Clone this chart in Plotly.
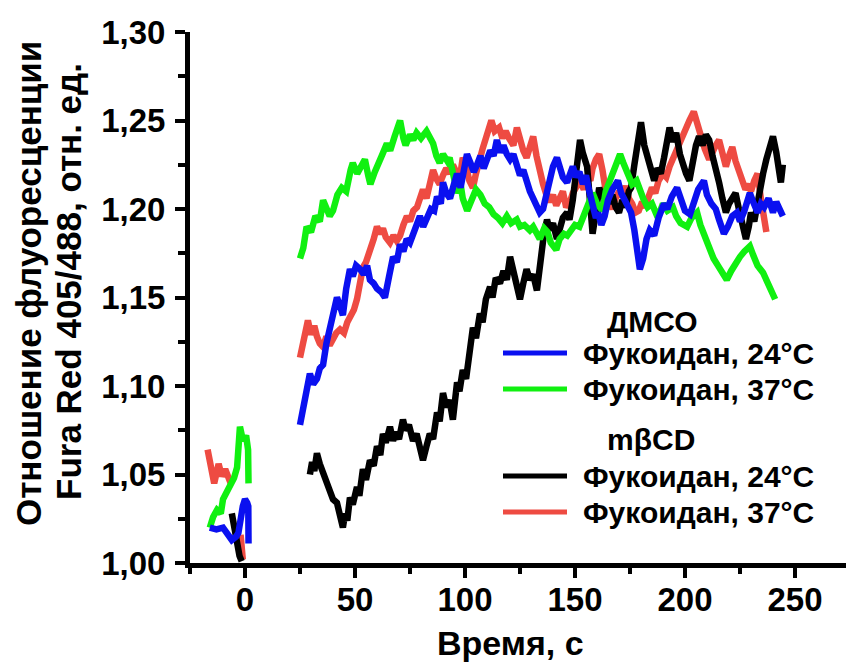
import plotly.graph_objects as go

# ---------------- data ----------------
# DMSO, Fucoidan 24 C (blue)
blue_pre_t = [-16, -13, -10, -8, -6, -4, -3, -1, 0, 1, 1.5, 1.6]
blue_pre_v = [1.020, 1.019, 1.020, 1.016, 1.013, 1.015, 1.017, 1.032, 1.036, 1.034, 1.032, 1.011]
blue_t = [25, 26.5, 28, 29.5, 31, 32.7, 34, 35.5, 37, 38.6, 40, 41.8, 43, 44.5, 46, 47.7, 49, 50.5, 52.3, 54,
          55.5, 56.8, 58.5, 60, 62, 63.6, 65.5, 67.3, 69, 70.5, 72, 73.5, 75, 77, 79.5, 81, 82.7, 84.5, 86, 87.3,
          89, 90, 91.5, 93.2, 95, 96.4, 98, 99.5, 100.9, 102.5, 104, 105.5, 107, 108.5, 110, 111.5, 113, 114.5,
          116, 117.5, 119, 120.5, 122, 123.6, 125, 126.5, 128, 129.5, 131, 132.7, 134, 135.5, 137, 138.5, 140,
          141.8, 143, 144.5, 146.4, 148, 149, 150.5, 152, 153.6, 155, 156.5, 158, 159.5, 160.5, 162, 163.5, 165,
          167, 169.5, 171, 173, 175.5, 177, 178.5, 179.5, 181, 182.5, 184, 186, 188, 190.5, 192, 194, 196.4, 198,
          200, 202.3, 204, 206, 208.6, 210, 212, 214, 215.5, 217.7, 219.5, 221.5, 223.6, 225, 227, 229.5, 231,
          233, 234.5, 236, 238, 240, 241.5, 243, 244.5]
blue_v = [1.078, 1.088, 1.097, 1.107, 1.101, 1.104, 1.110, 1.112, 1.124, 1.133, 1.141, 1.150, 1.146, 1.140, 1.155,
          1.166, 1.162, 1.168, 1.166, 1.163, 1.168, 1.160, 1.158, 1.155, 1.153, 1.150, 1.162, 1.173, 1.170, 1.180,
          1.176, 1.183, 1.181, 1.188, 1.196, 1.190, 1.194, 1.200, 1.199, 1.207, 1.203, 1.215, 1.209, 1.206, 1.214,
          1.220, 1.212, 1.223, 1.231, 1.226, 1.221, 1.225, 1.230, 1.223, 1.229, 1.233, 1.230, 1.239, 1.232, 1.236,
          1.231, 1.228, 1.231, 1.223, 1.219, 1.222, 1.214, 1.210, 1.206, 1.202, 1.198, 1.200, 1.208, 1.216, 1.224,
          1.229, 1.224, 1.218, 1.215, 1.221, 1.224, 1.218, 1.221, 1.214, 1.219, 1.210, 1.200, 1.195, 1.198, 1.191,
          1.196, 1.205, 1.211, 1.216, 1.209, 1.204, 1.198, 1.188, 1.175, 1.166, 1.172, 1.183, 1.188, 1.185, 1.195,
          1.203, 1.200, 1.207, 1.212, 1.205, 1.199, 1.197, 1.204, 1.211, 1.216, 1.208, 1.203, 1.200, 1.194, 1.186,
          1.190, 1.196, 1.198, 1.193, 1.199, 1.209, 1.204, 1.198, 1.203, 1.201, 1.206, 1.198, 1.204, 1.200, 1.196]

# DMSO, Fucoidan 37 C (green)
green_pre_t = [-16, -14.5, -12.7, -11, -10, -8.5, -6.8, -5, -3.6, -2.3, -0.9, 0.5, 1.4, 1.6]
green_pre_v = [1.020, 1.026, 1.030, 1.028, 1.036, 1.040, 1.043, 1.048, 1.054, 1.077, 1.069, 1.072, 1.064, 1.045]
green_t = [25, 26.5, 28, 30, 32, 34, 35.5, 37, 38.5, 40, 42, 44, 46, 48, 49, 51, 53, 54.5, 56, 57, 59, 61, 62.5,
           64.5, 66, 68, 70.5, 72, 73, 75, 76.5, 78, 80, 82.5, 84, 85.5, 87, 88.5, 90, 92, 93, 95, 96.5, 98, 99,
           101, 103, 105, 107, 109, 111, 113, 115, 117, 119, 121, 123.5, 125, 127, 129.5, 131, 133, 134, 136,
           137.5, 139, 141.5, 143, 145, 146.5, 148, 150, 152, 154, 156, 158, 160, 162.5, 164, 166, 168, 170.5,
           172, 174, 176, 178, 179.5, 181, 183, 185, 187, 188.5, 190, 192, 194.5, 196, 198, 201, 203, 205.5, 207,
           209, 211.5, 213, 215, 217, 219, 221, 223, 225, 227, 229.5, 231, 233, 235.5, 237, 239, 241]
green_v = [1.172, 1.178, 1.190, 1.187, 1.196, 1.193, 1.205, 1.201, 1.196, 1.199, 1.208, 1.212, 1.210, 1.222,
           1.226, 1.220, 1.224, 1.228, 1.219, 1.214, 1.221, 1.226, 1.231, 1.237, 1.233, 1.241, 1.250, 1.240,
           1.236, 1.242, 1.239, 1.243, 1.240, 1.244, 1.241, 1.237, 1.230, 1.226, 1.231, 1.227, 1.229, 1.218,
           1.209, 1.214, 1.206, 1.199, 1.205, 1.211, 1.208, 1.203, 1.201, 1.197, 1.195, 1.192, 1.196, 1.192,
           1.194, 1.190, 1.191, 1.188, 1.190, 1.185, 1.183, 1.189, 1.187, 1.181, 1.177, 1.183, 1.186, 1.185,
           1.188, 1.191, 1.190, 1.196, 1.204, 1.209, 1.203, 1.199, 1.210, 1.217, 1.224, 1.231, 1.226, 1.220,
           1.214, 1.216, 1.210, 1.206, 1.201, 1.203, 1.197, 1.198, 1.203, 1.199, 1.201, 1.196, 1.192, 1.190,
           1.195, 1.198, 1.191, 1.184, 1.176, 1.172, 1.168, 1.163, 1.160, 1.165, 1.170, 1.173, 1.176, 1.179,
           1.174, 1.168, 1.164, 1.160, 1.155, 1.149]

# m-beta-CD, Fucoidan 24 C (black)
black_pre_t = [-6, -5, -3.5, -2.5, -1.5]
black_pre_v = [1.028, 1.020, 1.010, 1.004, 1.001]
black_t = [29.5, 30.5, 31.5, 32.7, 34, 35.5, 37, 38.6, 40, 41.8, 43, 44.5, 45.5, 46.5, 47.7, 49, 50.9, 52, 53.6,
           55, 56.8, 58.5, 60, 61.5, 62.7, 64, 65.9, 67.3, 68.5, 70, 71.8, 73, 74.5, 76.4, 78, 79.5, 80.9, 82.5,
           84, 85.5, 87.3, 88.5, 90, 91.5, 93, 94.5, 96.4, 97.5, 99, 100.5, 102, 103.6, 105, 106.8, 108, 109.5,
           111.4, 112.5, 114, 115.9, 117.5, 119, 120.5, 122, 123.5, 125, 126.5, 128, 129.5, 131, 132.7, 134, 135,
           136, 137.3, 138.5, 140, 141.8, 143, 144.5, 146.4, 147.5, 149, 150.5, 152.3, 153.5, 155.5, 156.8, 158,
           159.5, 161, 162.5, 164, 165.5, 167, 168.5, 170, 171.5, 173, 174.5, 175.5, 177, 178.5, 180, 181.5, 183,
           184.5, 186, 187.5, 189, 190.5, 192, 193, 194.5, 196, 197.7, 199, 200.5, 202, 203.5, 205, 206.4, 208,
           209.5, 211, 212.5, 214, 215.5, 217, 218.6, 220, 221.5, 223, 224.5, 226, 227.7, 229, 230, 231.5, 233,
           234.5, 235.5, 237, 238.5, 240, 241.5, 242.5, 243.6, 244.5]
black_v = [1.050, 1.057, 1.052, 1.062, 1.056, 1.051, 1.045, 1.040, 1.036, 1.034, 1.027, 1.020, 1.028, 1.024,
           1.037, 1.033, 1.043, 1.038, 1.053, 1.047, 1.058, 1.055, 1.066, 1.061, 1.073, 1.068, 1.077, 1.069,
           1.074, 1.070, 1.081, 1.075, 1.078, 1.069, 1.073, 1.064, 1.058, 1.066, 1.073, 1.070, 1.085, 1.080,
           1.096, 1.088, 1.092, 1.081, 1.102, 1.097, 1.109, 1.104, 1.116, 1.133, 1.127, 1.141, 1.136, 1.149,
           1.156, 1.150, 1.161, 1.158, 1.165, 1.160, 1.173, 1.165, 1.157, 1.149, 1.158, 1.166, 1.160, 1.163,
           1.154, 1.164, 1.177, 1.187, 1.194, 1.188, 1.192, 1.183, 1.190, 1.195, 1.198, 1.194, 1.205, 1.220,
           1.239, 1.232, 1.224, 1.205, 1.186, 1.198, 1.212, 1.206, 1.211, 1.203, 1.208, 1.201, 1.198, 1.205,
           1.201, 1.210, 1.212, 1.225, 1.240, 1.249, 1.236, 1.228, 1.221, 1.216, 1.223, 1.220, 1.229, 1.238,
           1.246, 1.238, 1.243, 1.231, 1.225, 1.220, 1.216, 1.228, 1.236, 1.241, 1.236, 1.242, 1.239, 1.230,
           1.224, 1.215, 1.206, 1.198, 1.203, 1.206, 1.209, 1.200, 1.192, 1.183, 1.190, 1.198, 1.193, 1.205,
           1.214, 1.220, 1.228, 1.236, 1.241, 1.232, 1.222, 1.215, 1.225]

# m-beta-CD, Fucoidan 37 C (red)
red_pre_t = [-17, -15.5, -14, -12, -10.5, -9, -7, -6.5]
red_pre_v = [1.064, 1.052, 1.045, 1.056, 1.049, 1.053, 1.047, 1.045]
red_pre2_t = [-2, -1.5, -1]
red_pre2_v = [1.016, 1.008, 1.002]
red_t = [25, 26.4, 27.5, 28.6, 30, 31.5, 32.7, 34, 35.5, 37, 38.5, 40, 41.5, 43.2, 45, 46.5, 47.7, 49.5, 50.9,
         52.3, 53.6, 55, 56.8, 58.5, 60, 61.5, 62.7, 64, 65.9, 67.5, 69, 70.5, 72, 73.6, 75, 76.5, 78.2, 79.5,
         80.9, 82.5, 84, 85.5, 87, 88.5, 90, 91.5, 93, 94.5, 96, 97.7, 99, 100.5, 102, 103.6, 105, 106.5, 108,
         110, 112, 113.5, 115.5, 117, 118.5, 120, 122, 123.6, 125, 126.5, 128, 129.5, 131, 132.5, 134, 135.5,
         137, 138.6, 140, 141.5, 143, 144.5, 146, 147.7, 149, 150.5, 152.3, 154, 155.5, 157, 158, 159.5, 161,
         162.5, 164, 165.5, 167, 168.5, 170, 171.5, 173, 174.5, 176, 177.5, 179, 180.5, 182, 183.5, 185, 186.5,
         188, 190, 191.5, 193, 195, 197, 198.5, 200, 202, 204, 205.5, 207.7, 209, 211, 212.5, 214, 215.5, 217,
         218.6, 220, 221.5, 223, 224.5, 226, 227.5, 229, 230, 231.5, 233, 234.5, 236, 237]
red_v = [1.116, 1.126, 1.133, 1.137, 1.129, 1.134, 1.128, 1.124, 1.122, 1.128, 1.123, 1.127, 1.130, 1.132,
         1.130, 1.136, 1.139, 1.143, 1.149, 1.160, 1.167, 1.170, 1.176, 1.183, 1.190, 1.186, 1.189, 1.184, 1.181,
         1.185, 1.182, 1.185, 1.191, 1.196, 1.193, 1.199, 1.201, 1.207, 1.211, 1.206, 1.216, 1.222, 1.217, 1.214,
         1.219, 1.223, 1.220, 1.225, 1.221, 1.218, 1.229, 1.224, 1.216, 1.212, 1.220, 1.228, 1.234, 1.242, 1.250,
         1.244, 1.246, 1.240, 1.244, 1.240, 1.236, 1.246, 1.239, 1.233, 1.229, 1.237, 1.241, 1.230, 1.220, 1.214,
         1.208, 1.204, 1.208, 1.202, 1.206, 1.210, 1.201, 1.204, 1.209, 1.212, 1.216, 1.211, 1.219, 1.216, 1.223,
         1.228, 1.231, 1.222, 1.210, 1.204, 1.200, 1.206, 1.210, 1.207, 1.213, 1.206, 1.203, 1.198, 1.199, 1.204,
         1.201, 1.207, 1.212, 1.209, 1.216, 1.220, 1.218, 1.224, 1.230, 1.236, 1.241, 1.246, 1.250, 1.255, 1.248,
         1.240, 1.234, 1.228, 1.233, 1.236, 1.239, 1.231, 1.224, 1.230, 1.235, 1.227, 1.221, 1.216, 1.211, 1.214,
         1.210, 1.216, 1.220, 1.206, 1.192, 1.187]

x_ticks = [0, 50, 100, 150, 200, 250]
y_ticks = [1.00, 1.05, 1.10, 1.15, 1.20, 1.25, 1.30]
group_titles = ["ДМСО", "mβCD"]
labels = ["Фукоидан, 24°C", "Фукоидан, 37°C", "Фукоидан, 24°C", "Фукоидан, 37°C"]
x_title = "Время, с"
y_title_lines = ["Отношение флуоресценции", "Fura Red 405/488, отн. ед."]

# ---------------- figure ----------------
FONT = "Liberation Sans, Arial, sans-serif"
C_BLUE = "#0A10F0"
C_GREEN = "#10F010"
C_BLACK = "#000000"
C_RED = "#EE4B42"
LW = 6.5


def join(t1, v1, t2, v2):
    return t1 + [None] + t2, v1 + [None] + v2


fig = go.Figure()
rx, ry = join(red_pre_t, red_pre_v, red_pre2_t, red_pre2_v)
rx, ry = join(rx, ry, red_t, red_v)
fig.add_trace(go.Scatter(x=rx, y=ry, mode="lines", line=dict(color=C_RED, width=LW), showlegend=False))
for pt, pv, mt, mv, col in [
    (black_pre_t, black_pre_v, black_t, black_v, C_BLACK),
    (green_pre_t, green_pre_v, green_t, green_v, C_GREEN),
    (blue_pre_t, blue_pre_v, blue_t, blue_v, C_BLUE),
]:
    x, y = join(pt, pv, mt, mv)
    fig.add_trace(go.Scatter(x=x, y=y, mode="lines", line=dict(color=col, width=LW), showlegend=False))

W, H = 846, 662
L, R, T, B = 190, 0, 32, 99
PW, PH = W - L - R, H - T - B


def px_x(p):
    return (p - L) / PW


def px_y(p):
    return (H - B - p) / PH


def ann(text, x, y, size, xanchor="center", angle=0):
    return dict(text="<b>%s</b>" % text, x=px_x(x), y=px_y(y), xref="paper", yref="paper",
                showarrow=False, xanchor=xanchor, yanchor="middle", textangle=angle,
                font=dict(size=size, family=FONT, color="black"))


annotations = []
shapes = []
annotations.append(ann(group_titles[0], 652, 321, 30))
annotations.append(ann(group_titles[1], 651, 439, 30))
rows = [(353, C_BLUE, labels[0]), (389, C_GREEN, labels[1]), (476, C_BLACK, labels[2]), (512, C_RED, labels[3])]
for py, col, lab in rows:
    shapes.append(dict(type="line", xref="paper", yref="paper", x0=px_x(503), x1=px_x(567), y0=px_y(py), y1=px_y(py),
                       line=dict(color=col, width=5)))
    annotations.append(ann(lab, 581, py, 30, xanchor="left"))

annotations.append(ann(x_title, 510, 643, 34))
annotations.append(ann(y_title_lines[0], 28, 284, 35, angle=-90))
annotations.append(ann(y_title_lines[1], 68, 282, 35, angle=-90))

fig.update_layout(
    width=W, height=H,
    margin=dict(l=L, r=R, t=T, b=B, pad=0),
    paper_bgcolor="white", plot_bgcolor="white",
    annotations=annotations, shapes=shapes,
    font=dict(family=FONT, color="black"),
)
fig.update_xaxes(
    range=[-25, 273.2], tickvals=x_ticks, ticktext=[str(v) for v in x_ticks],
    showgrid=False, zeroline=False, showline=True, linecolor="black", linewidth=5,
    ticks="outside", ticklen=10, tickwidth=4, tickcolor="black",
    minor=dict(ticks="outside", ticklen=6, tickwidth=4, tickcolor="black", dtick=25, tick0=0, showgrid=False),
    tickfont=dict(size=33, family=FONT, weight="bold", color="black"),
    ticklabelstandoff=-7,
)
fig.update_yaxes(
    range=[1.0, 1.30], tickvals=y_ticks, ticktext=[("%.2f" % v).replace(".", ",") for v in y_ticks],
    showgrid=False, zeroline=False, showline=True, linecolor="black", linewidth=5,
    ticks="outside", ticklen=10, tickwidth=4, tickcolor="black",
    minor=dict(ticks="outside", ticklen=7, tickwidth=4, tickcolor="black", dtick=0.025, tick0=1.0, showgrid=False),
    tickfont=dict(size=33, family=FONT, weight="bold", color="black"),
    ticklabelstandoff=3,
)

fig.write_html("out.html")
